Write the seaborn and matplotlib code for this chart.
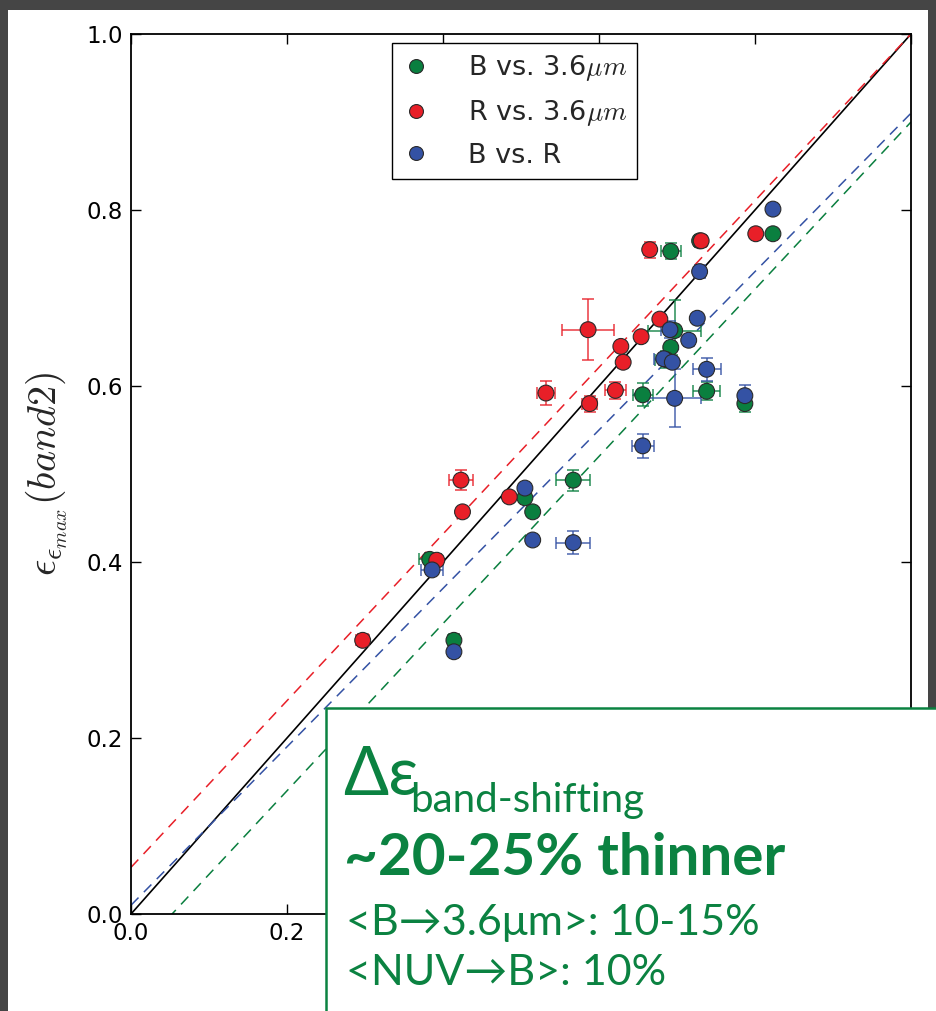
import numpy as np
import pandas as pd
import matplotlib
matplotlib.use("Agg")
import matplotlib.pyplot as plt
import seaborn as sns
from matplotlib.patches import Rectangle
from matplotlib.lines import Line2D

# ---------------- data ----------------
series_names = ["B vs. 3.6$\\mu m$", "R vs. 3.6$\\mu m$", "B vs. R"]
colors = ["#0a7f3f", "#e81f28", "#3452a4"]

green_x = [0.414, 0.383, 0.505, 0.515, 0.567, 0.656, 0.692, 0.697, 0.738, 0.787, 0.692, 0.823, 0.686, 0.729]
green_y = [0.311, 0.403, 0.473, 0.457, 0.493, 0.590, 0.644, 0.663, 0.594, 0.580, 0.753, 0.773, 0.630, 0.765]
green_xerr = [0.007, 0.014, 0.0, 0.0, 0.022, 0.013, 0.0, 0.034, 0.017, 0.0, 0.013, 0.0, 0.014, 0.007]
green_yerr = [0.007, 0.007, 0.0, 0.0, 0.012, 0.013, 0.0, 0.035, 0.010, 0.010, 0.009, 0.0, 0.010, 0.007]

red_x = [0.297, 0.392, 0.423, 0.425, 0.485, 0.532, 0.588, 0.586, 0.621, 0.631, 0.628, 0.654, 0.678, 0.665, 0.731, 0.801]
red_y = [0.311, 0.402, 0.493, 0.457, 0.474, 0.592, 0.580, 0.664, 0.595, 0.627, 0.645, 0.656, 0.676, 0.755, 0.765, 0.773]
red_xerr = [0.008, 0.005, 0.015, 0.0, 0.0, 0.012, 0.010, 0.033, 0.013, 0.006, 0.0, 0.0, 0.0, 0.007, 0.007, 0.0]
red_yerr = [0.007, 0.005, 0.011, 0.0, 0.0, 0.014, 0.009, 0.035, 0.010, 0.006, 0.0, 0.0, 0.0, 0.009, 0.007, 0.0]

blue_x = [0.414, 0.386, 0.505, 0.515, 0.567, 0.656, 0.697, 0.683, 0.694, 0.691, 0.715, 0.726, 0.738, 0.787, 0.729, 0.823]
blue_y = [0.298, 0.391, 0.484, 0.425, 0.422, 0.532, 0.586, 0.631, 0.627, 0.664, 0.652, 0.677, 0.619, 0.589, 0.730, 0.801]
blue_xerr = [0.006, 0.014, 0.0, 0.0, 0.022, 0.014, 0.034, 0.013, 0.0, 0.012, 0.006, 0.0, 0.018, 0.0, 0.007, 0.0]
blue_yerr = [0.005, 0.005, 0.0, 0.0, 0.013, 0.014, 0.033, 0.007, 0.0, 0.010, 0.006, 0.0, 0.013, 0.012, 0.007, 0.0]

# linear fits (intercept, slope) for each series, and 1:1 line
fit_intercepts = [-0.05, 0.053, 0.01]
fit_slopes = [0.95, 0.947, 0.90]

ticks = [0.0, 0.2, 0.4, 0.6, 0.8, 1.0]
y_tick_labels = ["0.0", "0.2", "0.4", "0.6", "0.8", "1.0"]
# x labels beyond 0.2 are hidden behind the annotation box in the reference
x_tick_labels = ["0.0", "0.2", "", "", "", ""]

box_lines = ["~20-25% thinner", "<B\u2192" + "3.6\u03bcm>: 10-15%", "<NUV\u2192" + "B>: 10%"]

# ---------------- figure ----------------
sns.set_style("ticks")
plt.rcParams["font.family"] = ["DejaVu Sans"]
plt.rcParams["mathtext.fontset"] = "cm"

W, H = 936, 1011
fig = plt.figure(figsize=(W / 100, H / 100), dpi=100)
fig.patch.set_facecolor("#454545")
fig.add_artist(Rectangle((8 / W, 0), (928 - 8) / W, 1 - 10 / H, transform=fig.transFigure,
                         facecolor="white", edgecolor="none", zorder=-10))

ax = fig.add_axes([131 / W, 1 - 914 / H, 780 / W, 880 / H])
ax.set_facecolor("white")

df = pd.concat([
    pd.DataFrame({"x": green_x, "y": green_y, "xerr": green_xerr, "yerr": green_yerr, "series": series_names[0]}),
    pd.DataFrame({"x": red_x, "y": red_y, "xerr": red_xerr, "yerr": red_yerr, "series": series_names[1]}),
    pd.DataFrame({"x": blue_x, "y": blue_y, "xerr": blue_xerr, "yerr": blue_yerr, "series": series_names[2]}),
], ignore_index=True)

xx = np.array([0.0, 1.0])
ax.plot(xx, xx, color="black", lw=1.2, zorder=2)
for b, m, c in zip(fit_intercepts, fit_slopes, colors):
    ax.plot(xx, b + m * xx, color=c, lw=1.1, dashes=(7, 5), zorder=2)

for name, c in zip(series_names, colors):
    sub = df[df["series"] == name]
    sub = sub[(sub["xerr"] > 0) | (sub["yerr"] > 0)]
    ax.errorbar(sub["x"], sub["y"], xerr=sub["xerr"], yerr=sub["yerr"], fmt="none",
                ecolor=c, elinewidth=1.3, capsize=4.5, capthick=1.3, alpha=0.75, zorder=3)

sns.scatterplot(data=df, x="x", y="y", hue="series", palette=colors, s=130,
                edgecolor="#2a2a2a", linewidth=0.8, legend=False, ax=ax, zorder=4)

ax.set_xlim(0, 1)
ax.set_ylim(0, 1)
ax.set_xticks(ticks)
ax.set_xticklabels(x_tick_labels)
ax.set_yticks(ticks)
ax.set_yticklabels(y_tick_labels)
ax.tick_params(direction="in", length=7, width=1, top=True, right=True, labelsize=16.5,
               colors="black", pad=6)
for s in ax.spines.values():
    s.set_linewidth(1.3)
    s.set_color("black")
ax.set_xlabel("")
ax.set_ylabel("$\\epsilon_{\\epsilon_{max}}(band2)$", fontsize=29, labelpad=12)

handles = [Line2D([], [], ls="none", marker="o", markersize=10, markerfacecolor=c,
                  markeredgecolor="#2a2a2a", markeredgewidth=0.8) for c in colors]
leg = ax.legend(handles, series_names, loc="upper center", bbox_to_anchor=(0.492, 0.99),
                fontsize=19.5, frameon=True, fancybox=False, framealpha=1, edgecolor="black",
                handlelength=1.0, handletextpad=1.4, labelspacing=0.55, borderpad=0.38,
                borderaxespad=0, numpoints=1)
leg.get_frame().set_linewidth(1.0)

# ---------------- annotation box ----------------
green = "#0b8241"
fig.add_artist(Rectangle((326 / W, -0.05), 0.7, (1011 - 708) / H + 0.05, transform=fig.transFigure,
                         facecolor="white", edgecolor=green, linewidth=1.8, zorder=10))
fam = ["Lato", "DejaVu Sans"]
fig.text(343 / W, 1 - 795 / H, "\u0394\u03b5", color=green, fontsize=48, family=fam,
         va="baseline", ha="left", zorder=11)
fig.text(410 / W, 1 - 812 / H, "band-shifting", color=green, fontsize=29, family=fam,
         va="baseline", ha="left", zorder=11)
fig.text(344 / W, 1 - 875 / H, box_lines[0], color=green, fontsize=42, fontweight="bold",
         family=fam, va="baseline", ha="left", zorder=11)
fig.text(346 / W, 1 - 935 / H, box_lines[1], color=green, fontsize=31, family=fam,
         va="baseline", ha="left", zorder=11)
fig.text(346 / W, 1 - 985 / H, box_lines[2], color=green, fontsize=31, family=fam,
         va="baseline", ha="left", zorder=11)

fig.savefig("out.png", dpi=100, facecolor=fig.get_facecolor())
